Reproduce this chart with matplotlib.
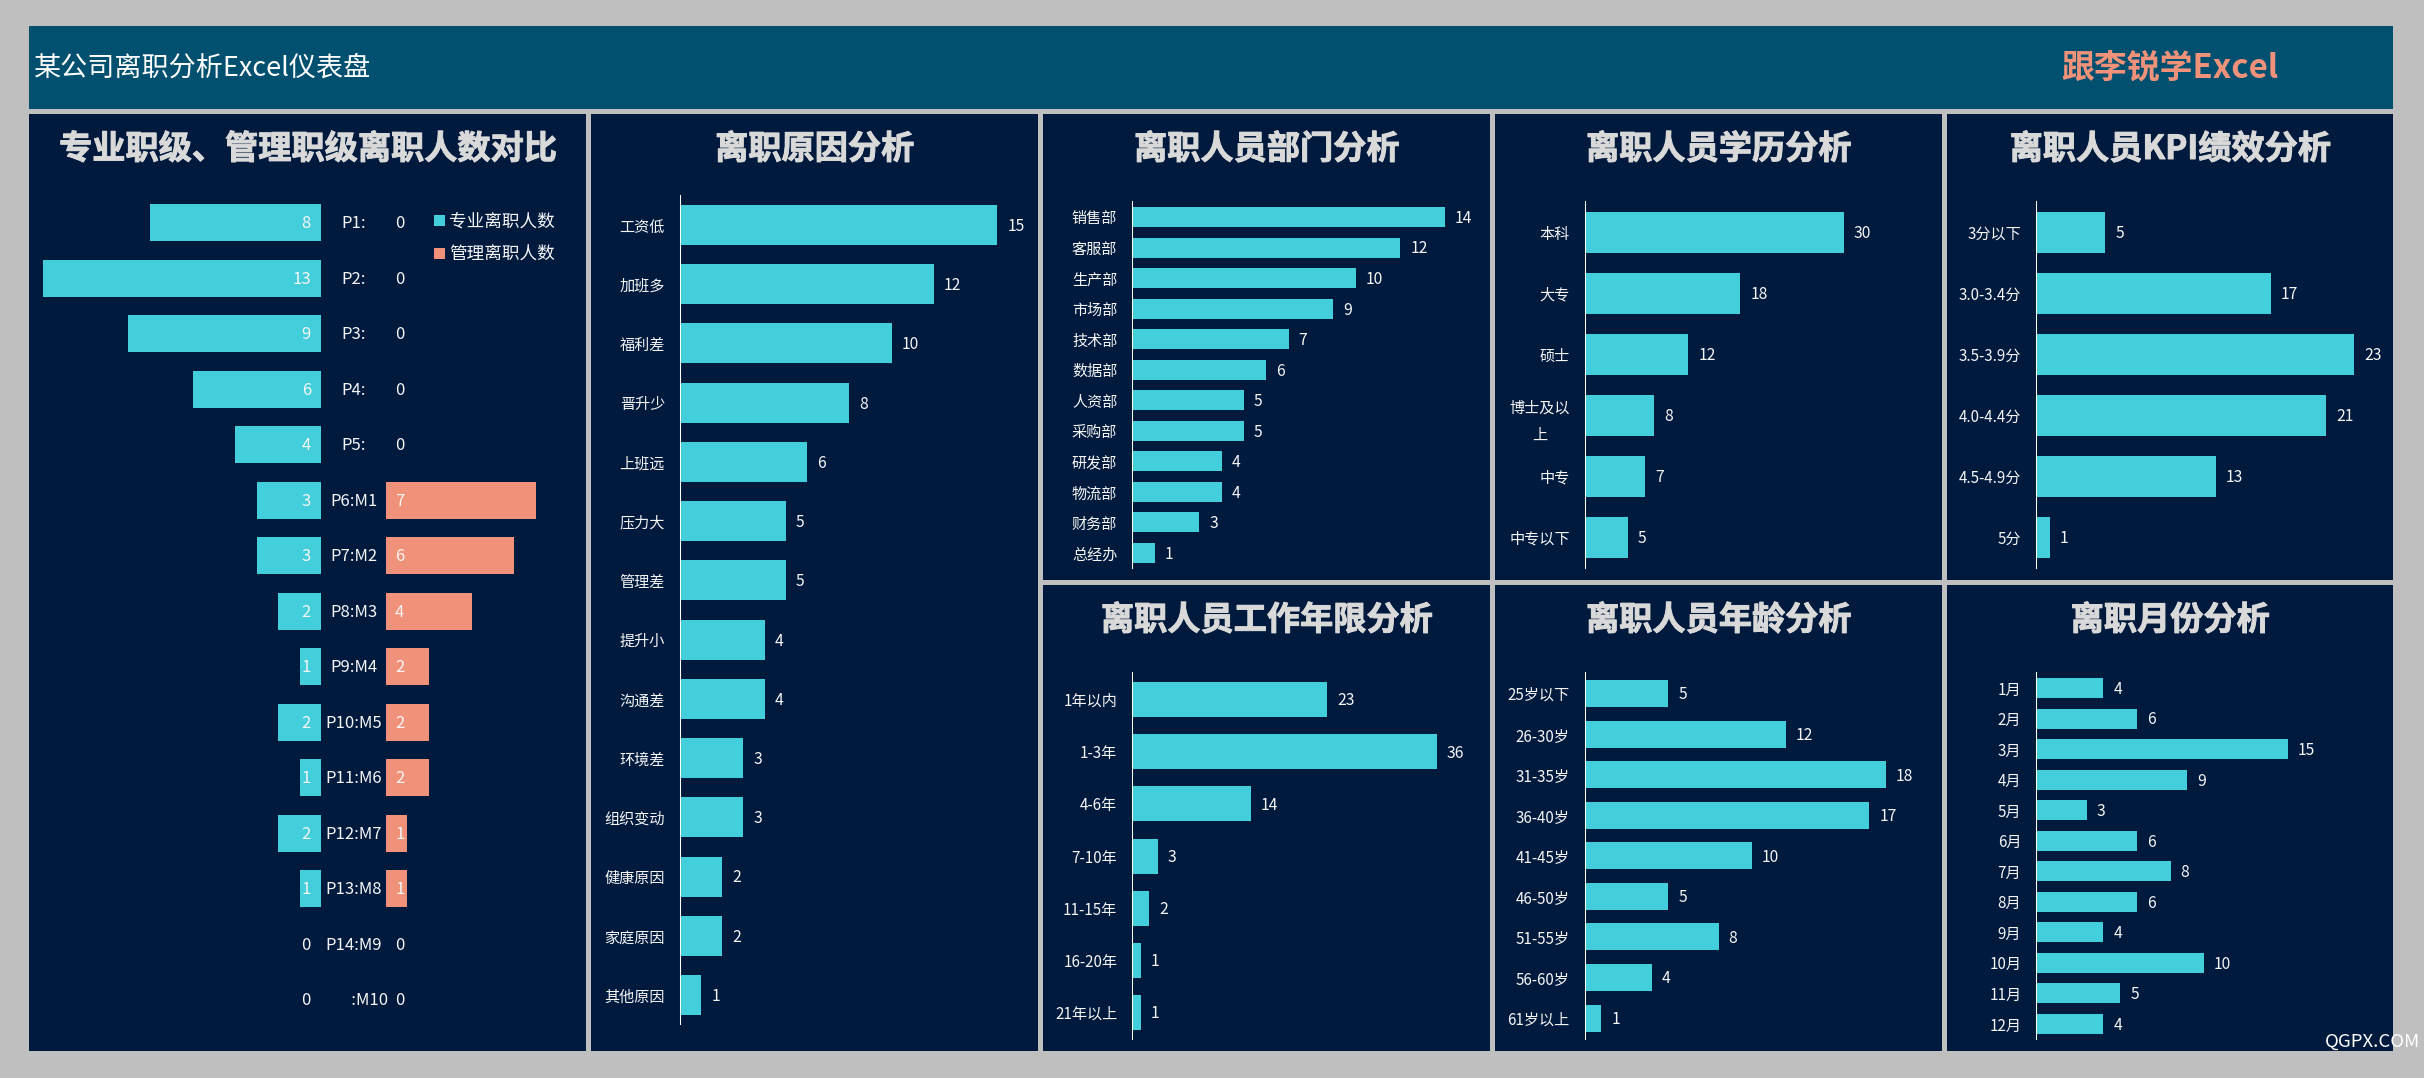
import matplotlib
matplotlib.use("Agg")
import matplotlib.pyplot as plt
import matplotlib.patheffects as pe
from matplotlib.patches import Rectangle

plt.rcParams['font.family'] = ['Noto Sans CJK SC', 'DejaVu Sans']

W, H = 2424, 1078
BG, HEADER, PANEL = '#BFBFBF', '#025070', '#001A3D'
TEAL, SALMON, TITLE, TEXT = '#42CEDA', '#F0927A', '#D9D9D9', '#F5F5F5'
FS = 10.9
FS_VAL = 11.3
FS_GRADE = 12.0

# ---- data ----
grade_labels = ['P1:', 'P2:', 'P3:', 'P4:', 'P5:', 'P6:M1', 'P7:M2', 'P8:M3', 'P9:M4',
                'P10:M5', 'P11:M6', 'P12:M7', 'P13:M8', 'P14:M9', '\u3000\u3000:M10']
specialist = [8, 13, 9, 6, 4, 3, 3, 2, 1, 2, 1, 2, 1, 0, 0]
manager = [0, 0, 0, 0, 0, 7, 6, 4, 2, 2, 2, 1, 1, 0, 0]

reason_labels = ['工资低', '加班多', '福利差', '晋升少', '上班远', '压力大', '管理差', '提升小',
                 '沟通差', '环境差', '组织变动', '健康原因', '家庭原因', '其他原因']
reason_values = [15, 12, 10, 8, 6, 5, 5, 4, 4, 3, 3, 2, 2, 1]

dept_labels = ['销售部', '客服部', '生产部', '市场部', '技术部', '数据部', '人资部', '采购部',
               '研发部', '物流部', '财务部', '总经办']
dept_values = [14, 12, 10, 9, 7, 6, 5, 5, 4, 4, 3, 1]

edu_labels = ['本科', '大专', '硕士', '博士及以\n上', '中专', '中专以下']
edu_values = [30, 18, 12, 8, 7, 5]

kpi_labels = ['3分以下', '3.0-3.4分', '3.5-3.9分', '4.0-4.4分', '4.5-4.9分', '5分']
kpi_values = [5, 17, 23, 21, 13, 1]

tenure_labels = ['1年以内', '1-3年', '4-6年', '7-10年', '11-15年', '16-20年', '21年以上']
tenure_values = [23, 36, 14, 3, 2, 1, 1]

age_labels = ['25岁以下', '26-30岁', '31-35岁', '36-40岁', '41-45岁', '46-50岁', '51-55岁',
              '56-60岁', '61岁以上']
age_values = [5, 12, 18, 17, 10, 5, 8, 4, 1]

month_labels = ['1月', '2月', '3月', '4月', '5月', '6月', '7月', '8月', '9月', '10月', '11月', '12月']
month_values = [4, 6, 15, 9, 3, 6, 8, 6, 4, 10, 5, 4]

fig = plt.figure(figsize=(W / 100, H / 100), dpi=100, facecolor=BG)


def px_axes(left, right, top, bottom, **kw):
    return fig.add_axes([left / W, 1 - bottom / H, (right - left) / W, (bottom - top) / H], **kw)


bg = px_axes(0, W, 0, H)
bg.set_xlim(0, W)
bg.set_ylim(H, 0)
bg.axis('off')


def panel(left, right, top, bottom, title=None):
    bg.add_patch(Rectangle((left, top), right - left, bottom - top, fc=PANEL, ec='none'))
    if title:
        bg.text((left + right) / 2, top + 35.5, title, color=TITLE, fontsize=23.9, weight='bold',
                ha='center', va='center',
                path_effects=[pe.withStroke(linewidth=0.7, foreground=TITLE)])


bg.add_patch(Rectangle((29, 26), 2393 - 29, 109 - 26, fc=HEADER, ec='none'))
bg.text(34, 68, '某公司离职分析Excel仪表盘', color='white', fontsize=19.5, ha='left', va='center')
bg.text(2278, 68, '跟李锐学Excel', color=SALMON, fontsize=23.7, weight='bold', ha='right', va='center')

panel(29, 586, 114, 1051, '专业职级、管理职级离职人数对比')
panel(591, 1038, 114, 1051, '离职原因分析')
panel(1043, 1490, 114, 580, '离职人员部门分析')
panel(1495, 1942, 114, 580, '离职人员学历分析')
panel(1947, 2393, 114, 580, '离职人员KPI绩效分析')
panel(1043, 1490, 585, 1051, '离职人员工作年限分析')
panel(1495, 1942, 585, 1051, '离职人员年龄分析')
panel(1947, 2393, 585, 1051, '离职月份分析')


def hbar(labels, values, axis_x, right, line_top, line_bottom, first, last, bar_h, unit):
    pitch = (last - first) / (len(values) - 1)
    ax = px_axes(axis_x, right, line_top, line_bottom)
    ax.patch.set_visible(False)
    bars = ax.barh(range(len(values)), values, height=bar_h / pitch, color=TEAL, linewidth=0)
    ax.set_xlim(0, (right - axis_x) / unit)
    ax.set_ylim((line_bottom - first) / pitch, (line_top - first) / pitch)
    for s in ('top', 'right', 'bottom'):
        ax.spines[s].set_visible(False)
    ax.spines['left'].set_color('white')
    ax.spines['left'].set_linewidth(0.75)
    ax.set_xticks([])
    ax.set_yticks(range(len(values)))
    ax.set_yticklabels(labels, fontsize=FS, color=TEXT, multialignment='center', linespacing=1.75)
    ax.tick_params(axis='y', length=0, pad=10.8)
    anns = ax.bar_label(bars, labels=[str(v) for v in values], padding=7.2, fontsize=FS_VAL, color=TEXT)
    for t in anns:
        t.xyann = (7.2, -1.0)
    return ax


hbar(reason_labels, reason_values, 680.0, 1030, 195, 1024, 225, 995, 40, 21.15)
hbar(dept_labels, dept_values, 1132.3, 1485, 201, 568, 217, 553, 20, 22.33)
hbar(edu_labels, edu_values, 1584.7, 1937, 201, 568, 232, 537, 41, 8.64)
hbar(kpi_labels, kpi_values, 2036.3, 2390, 201, 568, 232, 537, 41, 13.81)
hbar(tenure_labels, tenure_values, 1132.3, 1485, 672, 1039, 699.5, 1012.5, 35, 8.46)
hbar(age_labels, age_values, 1584.7, 1937, 672, 1039, 693.5, 1018, 27, 16.74)
hbar(month_labels, month_values, 2036.3, 2390, 672, 1039, 688, 1024, 20, 16.78)

# diverging panel
first, pitch, bar_h, unit = 222.5, 55.5, 37, 21.4
top_px, bot_px = 194.75, 1027.25
ylim = ((bot_px - first) / pitch, (top_px - first) / pitch)

axl = px_axes(29, 321, top_px, bot_px)
axl.patch.set_visible(False)
teal_bars = axl.barh(range(15), specialist, height=bar_h / pitch, color=TEAL, linewidth=0,
                     label='专业离职人数')
axl.set_xlim(292 / unit, 0)
axl.set_ylim(*ylim)
axl.axis('off')

axr = px_axes(386, 586, top_px, bot_px)
axr.patch.set_visible(False)
sal_bars = axr.barh(range(15), manager, height=bar_h / pitch, color=SALMON, linewidth=0,
                    label='管理离职人数')
axr.set_xlim(0, 200 / unit)
axr.set_ylim(*ylim)
axr.axis('off')

for i, (lab, a, b) in enumerate(zip(grade_labels, specialist, manager)):
    axl.annotate(str(a), (0, i), xytext=(-7.2, -1), textcoords='offset points', ha='right', va='center',
                 fontsize=FS_GRADE, color=TEXT)
    axl.annotate(lab, (0, i), xytext=(23.4, -1), textcoords='offset points', ha='center', va='center',
                 fontsize=FS_GRADE, color=TEXT)
    axr.annotate(str(b), (0, i), xytext=(6.5, -1), textcoords='offset points', ha='left', va='center',
                 fontsize=FS_GRADE, color=TEXT)

fig.legend(handles=[teal_bars, sal_bars], loc='upper left', bbox_to_anchor=(434 / W, 1 - 213 / H),
           frameon=False, fontsize=12.7, labelcolor=TEXT, handlelength=0.6, handleheight=0.6,
           handletextpad=0.25, labelspacing=0.85, borderpad=0, borderaxespad=0)

fig.text(2420 / W, 1 - 1042 / H, 'QGPX.COM', color='white', fontsize=13.4, ha='right', va='center')

fig.savefig('out.png', dpi=100, facecolor=BG)
